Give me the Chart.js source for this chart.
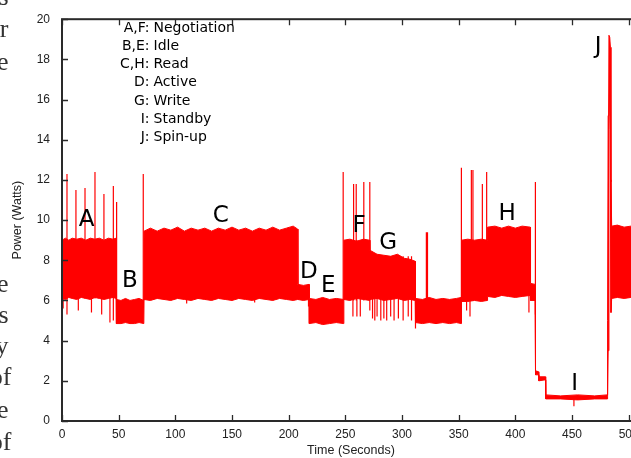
<!DOCTYPE html>
<html>
<head>
<meta charset="utf-8">
<script src="https://cdn.jsdelivr.net/npm/chart.js@4.4.0/dist/chart.umd.min.js"></script>
<style>
  html, body { margin: 0; padding: 0; background: #fff; overflow: hidden; }
  #wrap { position: absolute; left: 0; top: 0; width: 700px; height: 458px; }
</style>
</head>
<body>
<div id="wrap"><canvas id="power-chart"></canvas></div>
<script>
// Trace envelope (upper / lower edge of the noisy power band)
const timeSec = [
  0, 3, 6, 9, 13, 17, 21, 25, 29, 33, 37, 41, 45, 47.8,
  48, 52, 56, 60, 64, 68, 72.2,
  72.4, 78, 84, 90, 96, 102, 108, 114, 120, 126, 132, 138, 144, 150, 156, 162, 168, 174, 180, 186, 192, 198, 204, 208,
  208.2, 213, 218,
  218.2, 224, 230, 236, 242, 248.5,
  248.7, 254, 260, 266, 271.5,
  271.7, 278, 284, 290, 296, 302, 307, 311.7,
  311.9, 318, 324, 330, 336, 342, 348, 352.3,
  352.5, 358, 364, 370, 375.3,
  375.5, 382, 388, 394, 400, 406, 413.2,
  413.4, 417.5,
  417.8, 420.5, 420.7, 426.6,
  426.8, 440, 455, 470, 481,
  481.4, 481.9, 482.6, 483.3, 483.9, 484.4, 485.0,
  490, 496, 502, 510
];
const upperWatts = [
  9.0, 9.1, 9.0, 9.1, 9.05, 9.1, 9.0, 9.1, 9.05, 9.1, 9.0, 9.1, 9.05, 9.1,
  6.05, 6.0, 6.1, 6.0, 6.05, 6.1, 6.0,
  9.45, 9.6, 9.45, 9.6, 9.5, 9.65, 9.45, 9.6, 9.5, 9.6, 9.45, 9.6, 9.5, 9.65, 9.5, 9.6, 9.45, 9.6, 9.5, 9.65, 9.5, 9.6, 9.7, 9.55,
  6.8, 6.75, 6.8,
  6.1, 6.05, 6.15, 6.05, 6.1, 6.05,
  9.0, 9.05, 8.95, 9.05, 9.0,
  8.5, 8.3, 8.25, 8.2, 8.3, 8.1, 8.05, 7.95,
  6.1, 6.05, 6.15, 6.05, 6.1, 6.05, 6.1, 6.15,
  9.0, 9.05, 9.0, 9.05, 9.0,
  9.65, 9.7, 9.6, 9.7, 9.6, 9.7, 9.65,
  6.85, 6.8,
  2.5, 2.45, 2.2, 2.2,
  1.3, 1.25, 1.3, 1.25, 1.3,
  5.0, 15.2, 19.2, 19.1, 18.6, 11.9, 9.7,
  9.75, 9.65, 9.7, 9.65
];
const lowerWatts = [
  6.1, 6.05, 6.15, 6.1, 6.05, 6.15, 6.1, 6.05, 6.15, 6.1, 6.05, 6.1, 6.15, 6.1,
  4.85, 4.85, 4.9, 4.85, 4.85, 4.9, 4.85,
  6.05, 6.0, 6.1, 6.05, 6.0, 6.1, 6.05, 6.0, 6.1, 6.05, 6.0, 6.1, 6.05, 6.0, 6.1, 6.05, 6.0, 6.1, 6.05, 6.0, 6.1, 6.05, 6.0, 6.05,
  6.05, 6.0, 6.05,
  4.85, 4.9, 4.8, 4.85, 4.9, 4.85,
  6.05, 6.0, 6.1, 6.05, 6.0,
  6.05, 6.1, 6.0, 6.05, 6.1, 6.0, 6.05, 6.0,
  4.9, 4.85, 4.9, 4.85, 4.9, 4.85, 4.9, 4.85,
  5.95, 5.95, 6.0, 5.95, 6.0,
  6.2, 6.15, 6.25, 6.2, 6.15, 6.2, 6.25,
  6.0, 6.0,
  2.3, 2.3, 2.0, 2.05,
  1.1, 1.1, 1.05, 1.1, 1.1,
  1.2, 3.5, 14.5, 17.2, 12.0, 5.4, 6.1,
  6.15, 6.1, 6.15, 6.1
];

// Short excursions drawn as vertical strokes
const spikeSec = [
  1, 4.4, 12.3, 14.4, 20.3, 26, 29.1, 35, 37, 42.3, 45.3, 48.2, 71.7,
  110, 170, 217.5,
  248.1, 256.7, 257.3, 259.6, 260.2, 263.2, 266.3, 271.6,
  274, 276, 278, 281.3, 284, 286.5, 290, 293, 296.8, 301, 305.5, 308.4, 311.9,
  321.5, 322.5,
  352.4, 357, 360, 361.2, 362.6, 370.9, 374.7, 412, 417.7,
  451.7
];
const spikeLow = [
  5.6, 5.3, 6.1, 5.5, 6.1, 5.4, 6.1, 5.3, 6.1, 4.9, 5.0, 4.85, 6.0,
  5.85, 5.9, 5.7,
  6.0, 5.2, 6.0, 6.0, 5.2, 5.2, 6.0, 5.5,
  5.1, 5.0, 5.2, 5.0, 5.1, 5.0, 5.2, 5.0, 5.1, 5.0, 5.2, 5.0, 4.6,
  6.0, 6.0,
  5.0, 5.5, 5.2, 6.0, 6.0, 6.0, 6.0, 5.4, 5.3,
  0.74
];
const spikeHigh = [
  9.0, 12.3, 11.5, 9.0, 11.6, 9.0, 12.4, 9.0, 11.3, 9.0, 11.7, 10.9, 12.3,
  6.1, 6.1, 6.8,
  12.4, 9.0, 11.8, 11.8, 9.0, 9.0, 11.9, 11.9,
  8.2, 8.2, 8.2, 8.2, 8.2, 8.2, 8.2, 8.2, 8.2, 8.2, 8.2, 8.2, 6.1,
  9.4, 9.4,
  12.6, 9.0, 9.0, 12.5, 12.5, 11.8, 12.4, 9.6, 11.9,
  1.2
];

const xTicks = [0, 50, 100, 150, 200, 250, 300, 350, 400, 450, 500];
const yTicks = [0, 2, 4, 6, 8, 10, 12, 14, 16, 18, 20];

// Key in the upper left
const keyCodes = ["A,F:", "B,E:", "C,H:", "D:", "G:", "I:", "J:"];
const keyNames = ["Negotiation", "Idle", "Read", "Active", "Write", "Standby", "Spin-up"];

// Phase letters placed on the trace
const phaseLetters = ["A", "B", "C", "D", "E", "F", "G", "H", "I", "J"];
const phaseSec = [21.8, 60, 140, 217.8, 234.9, 262.2, 287.8, 392.7, 452.4, 473];
const phaseWatts = [10.0, 6.95, 10.2, 7.4, 6.7, 9.7, 8.88, 10.3, 1.86, 18.6];

// Bits of the surrounding page text cut by the crop
const pageBits = ["s", "r", "e", "e", "s", "y", "of", "e", "of"];

const RED = "#ff0000";
const INK = "#222";

const upperPts = timeSec.map((t, i) => ({ x: t, y: upperWatts[i] }));
const lowerPts = timeSec.map((t, i) => ({ x: t, y: lowerWatts[i] }));
const spikePts = [];
spikeSec.forEach((t, i) => {
  spikePts.push({ x: t, y: spikeLow[i] }, { x: t, y: spikeHigh[i] }, { x: t, y: null });
});

const decor = {
  id: "decor",
  afterDatasetsDraw(chart) {
    const { ctx, chartArea: a, scales: { x, y } } = chart;
    ctx.save();
    ctx.strokeStyle = "#2a2a2a";
    ctx.lineWidth = 2;
    ctx.strokeRect(a.left, a.top, a.right - a.left, a.bottom - a.top);
    ctx.lineWidth = 1.3;
    ctx.beginPath();
    xTicks.forEach(v => {
      const px = Math.round(x.getPixelForValue(v)) + 0.5;
      ctx.moveTo(px, a.bottom); ctx.lineTo(px, a.bottom - 6);
      ctx.moveTo(px, a.top); ctx.lineTo(px, a.top + 6);
    });
    yTicks.forEach(v => {
      const py = Math.round(y.getPixelForValue(v)) + 0.5;
      ctx.moveTo(a.left, py); ctx.lineTo(a.left + 6, py);
    });
    ctx.stroke();

    // phase letters
    ctx.fillStyle = "#000";
    ctx.font = "23px 'DejaVu Sans'";
    ctx.textAlign = "center";
    ctx.textBaseline = "middle";
    phaseLetters.forEach((s, i) => {
      ctx.fillText(s, x.getPixelForValue(phaseSec[i]), y.getPixelForValue(phaseWatts[i]));
    });

    // key
    ctx.font = "14px 'DejaVu Sans'";
    ctx.textBaseline = "alphabetic";
    keyCodes.forEach((c, i) => {
      const by = 31.5 + i * 18.3;
      ctx.textAlign = "right";
      ctx.fillText(c, 149.5, by);
      ctx.textAlign = "left";
      ctx.fillText(keyNames[i], 153.5, by);
    });

    // page text on the left margin
    ctx.fillStyle = "#333";
    ctx.font = "26px 'Liberation Serif'";
    ctx.textAlign = "right";
    const baselines = [5, 37, 70, 292, 323, 354, 385, 418, 450];
    pageBits.forEach((s, i) => ctx.fillText(s, s === "of" ? 11.5 : 8.5, baselines[i]));
    ctx.restore();
  }
};

new Chart(document.getElementById("power-chart"), {
  type: "line",
  data: {
    datasets: [
      { data: upperPts, borderColor: RED, borderWidth: 1, pointRadius: 0, fill: false },
      { data: lowerPts, borderColor: RED, borderWidth: 1, pointRadius: 0, fill: "-1", backgroundColor: RED },
      { data: spikePts, borderColor: RED, borderWidth: 1.2, pointRadius: 0, fill: false, spanGaps: false }
    ]
  },
  options: {
    responsive: true,
    maintainAspectRatio: false,
    animation: false,
    layout: { padding: { top: 15, right: 60, bottom: 0, left: 0 } },
    plugins: { legend: { display: false }, tooltip: { enabled: false } },
    elements: { line: { tension: 0 } },
    scales: {
      x: {
        type: "linear",
        min: 0,
        max: 510,
        afterBuildTicks: s => { s.ticks = xTicks.map(v => ({ value: v })); },
        afterFit: s => { s.height = 37; },
        grid: { display: false, drawTicks: false },
        border: { display: false },
        ticks: { color: INK, padding: 6, maxRotation: 0, font: { family: "'Liberation Sans'", size: 12 } },
        title: { display: true, text: "Time (Seconds)", color: INK, padding: { top: 0, bottom: 0 },
                 font: { family: "'Liberation Sans'", size: 12.5 } }
      },
      y: {
        min: 0,
        max: 20,
        afterBuildTicks: s => { s.ticks = yTicks.map(v => ({ value: v })); },
        afterFit: s => { s.width = 62; },
        grid: { display: false, drawTicks: false },
        border: { display: false },
        ticks: { color: INK, padding: 12, font: { family: "'Liberation Sans'", size: 12 } },
        title: { display: true, text: "Power (Watts)", color: INK, padding: { top: 10.5, bottom: 0 },
                 font: { family: "'Liberation Sans'", size: 12.5 } }
      }
    }
  },
  plugins: [decor]
});
</script>
</body>
</html>
